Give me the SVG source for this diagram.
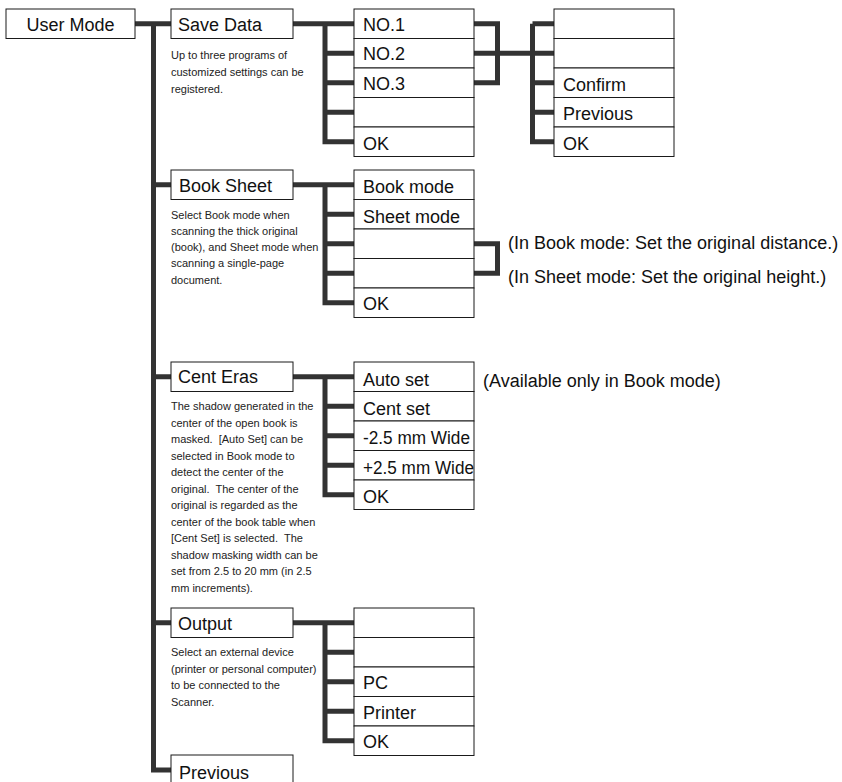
<svg xmlns="http://www.w3.org/2000/svg" width="842" height="782" viewBox="0 0 842 782">
<style>
.bg{fill:#ffffff}
.con{fill:none;stroke:#333333;stroke-width:5;stroke-linejoin:miter;stroke-linecap:butt}
.box{fill:#ffffff;stroke:#1a1a1a;stroke-width:1}
.lbl{font-family:"Liberation Sans",Arial,sans-serif;font-size:18px;fill:#111111}
.desc{font-family:"Liberation Sans",Arial,sans-serif;font-size:11px;fill:#222222;white-space:pre}
.note{font-family:"Liberation Sans",Arial,sans-serif;font-size:18px;fill:#111111}
</style>
<rect class="bg" x="0" y="0" width="842" height="782"/>
<g id="connectors">
<path class="con" d="M135 23.75 H171"/>
<path class="con" d="M153.5 23.75 V770 H171"/>
<path class="con" d="M153.5 184.75 H171 M153.5 376.75 H171 M153.5 622.75 H171"/>
<path class="con" d="M293 23.75 H354"/>
<path class="con" d="M325 23.75 V141.75 H354"/>
<path class="con" d="M325 53.25 H354 M325 82.75 H354 M325 112.25 H354"/>
<path class="con" d="M474 23.75 H497.5 V82.75 H474"/>
<path class="con" d="M474 53.25 H554"/>
<path class="con" d="M532.5 23.75 H554"/>
<path class="con" d="M532.5 23.75 V141.75 H554"/>
<path class="con" d="M532.5 82.75 H554 M532.5 112.25 H554"/>
<path class="con" d="M293 184.75 H354"/>
<path class="con" d="M325 184.75 V302.75 H354"/>
<path class="con" d="M325 214.25 H354 M325 243.75 H354 M325 273.25 H354"/>
<path class="con" d="M474 243.75 H497.5 V273.25 H474"/>
<path class="con" d="M293 376.75 H354"/>
<path class="con" d="M325 376.75 V494.75 H354"/>
<path class="con" d="M325 406.25 H354 M325 435.75 H354 M325 465.25 H354"/>
<path class="con" d="M293 622.75 H354"/>
<path class="con" d="M325 622.75 V740.75 H354"/>
<path class="con" d="M325 652.25 H354 M325 681.75 H354 M325 711.25 H354"/>
</g>
<g id="user-mode">
<rect class="box" x="6" y="9" width="129" height="29.5"/>
<text class="lbl" x="70.5" y="30.5" text-anchor="middle">User Mode</text>
</g>
<g id="save-data">
<rect class="box" x="171" y="9" width="122" height="29.5"/>
<text class="lbl" x="178" y="30.5">Save Data</text>
<text class="desc" x="171" y="58.5">Up to three programs of</text>
<text class="desc" x="171" y="75.5">customized settings can be</text>
<text class="desc" x="171" y="92.5">registered.</text>
</g>
<g id="save-options">
<rect class="box" x="354" y="9" width="120" height="29.5"/>
<rect class="box" x="354" y="38.5" width="120" height="29.5"/>
<rect class="box" x="354" y="68" width="120" height="29.5"/>
<rect class="box" x="354" y="97.5" width="120" height="29.5"/>
<rect class="box" x="354" y="127" width="120" height="29.5"/>
<text class="lbl" x="363" y="31">NO.1</text>
<text class="lbl" x="363" y="60">NO.2</text>
<text class="lbl" x="363" y="89.5">NO.3</text>
<text class="lbl" x="363" y="149.5">OK</text>
</g>
<g id="save-confirm">
<rect class="box" x="554" y="9" width="120" height="29.5"/>
<rect class="box" x="554" y="38.5" width="120" height="29.5"/>
<rect class="box" x="554" y="68" width="120" height="29.5"/>
<rect class="box" x="554" y="97.5" width="120" height="29.5"/>
<rect class="box" x="554" y="127" width="120" height="29.5"/>
<text class="lbl" x="563" y="90.5">Confirm</text>
<text class="lbl" x="563" y="120">Previous</text>
<text class="lbl" x="563" y="149.5">OK</text>
</g>
<g id="book-sheet">
<rect class="box" x="171" y="170" width="122" height="29.5"/>
<text class="lbl" x="179" y="191.5">Book Sheet</text>
<text class="desc" x="171" y="218.5">Select Book mode when</text>
<text class="desc" x="171" y="234.8">scanning the thick original</text>
<text class="desc" x="171" y="251">(book), and Sheet mode when</text>
<text class="desc" x="171" y="267.3">scanning a single-page</text>
<text class="desc" x="171" y="283.5">document.</text>
</g>
<g id="book-options">
<rect class="box" x="354" y="170" width="120" height="29.5"/>
<rect class="box" x="354" y="199.5" width="120" height="29.5"/>
<rect class="box" x="354" y="229" width="120" height="29.5"/>
<rect class="box" x="354" y="258.5" width="120" height="29.5"/>
<rect class="box" x="354" y="288" width="120" height="29.5"/>
<text class="lbl" x="363" y="193">Book mode</text>
<text class="lbl" x="363" y="222.5">Sheet mode</text>
<text class="lbl" x="363" y="310">OK</text>
</g>
<g id="book-notes">
<text class="note" x="508" y="248.5">(In Book mode: Set the original distance.)</text>
<text class="note" x="508" y="282.5">(In Sheet mode: Set the original height.)</text>
</g>
<g id="cent-eras">
<rect class="box" x="171" y="362" width="122" height="29.5"/>
<text class="lbl" x="178" y="383">Cent Eras</text>
<text class="desc" x="171" y="410">The shadow generated in the</text>
<text class="desc" x="171" y="426.5">center of the open book is</text>
<text class="desc" x="171" y="443">masked.  [Auto Set] can be</text>
<text class="desc" x="171" y="459.5">selected in Book mode to</text>
<text class="desc" x="171" y="476">detect the center of the</text>
<text class="desc" x="171" y="492.5">original.  The center of the</text>
<text class="desc" x="171" y="509">original is regarded as the</text>
<text class="desc" x="171" y="525.5">center of the book table when</text>
<text class="desc" x="171" y="542">[Cent Set] is selected.  The</text>
<text class="desc" x="171" y="558.5">shadow masking width can be</text>
<text class="desc" x="171" y="575">set from 2.5 to 20 mm (in 2.5</text>
<text class="desc" x="171" y="591.5">mm increments).</text>
</g>
<g id="cent-options">
<rect class="box" x="354" y="362" width="120" height="29.5"/>
<rect class="box" x="354" y="391.5" width="120" height="29.5"/>
<rect class="box" x="354" y="421" width="120" height="29.5"/>
<rect class="box" x="354" y="450.5" width="120" height="29.5"/>
<rect class="box" x="354" y="480" width="120" height="29.5"/>
<text class="lbl" x="363" y="385.5">Auto set</text>
<text class="lbl" x="363" y="414.5">Cent set</text>
<text class="lbl" x="363" y="444" textLength="107" lengthAdjust="spacingAndGlyphs">-2.5 mm Wide</text>
<text class="lbl" x="363" y="473.5" textLength="111" lengthAdjust="spacingAndGlyphs">+2.5 mm Wide</text>
<text class="lbl" x="363" y="502.5">OK</text>
</g>
<g id="cent-note">
<text class="note" x="483" y="387">(Available only in Book mode)</text>
</g>
<g id="output">
<rect class="box" x="171" y="608" width="122" height="29.5"/>
<text class="lbl" x="178" y="629.5">Output</text>
<text class="desc" x="171" y="656">Select an external device</text>
<text class="desc" x="171" y="672.5">(printer or personal computer)</text>
<text class="desc" x="171" y="689">to be connected to the</text>
<text class="desc" x="171" y="705.5">Scanner.</text>
</g>
<g id="output-options">
<rect class="box" x="354" y="608" width="120" height="29.5"/>
<rect class="box" x="354" y="637.5" width="120" height="29.5"/>
<rect class="box" x="354" y="667" width="120" height="29.5"/>
<rect class="box" x="354" y="696.5" width="120" height="29.5"/>
<rect class="box" x="354" y="726" width="120" height="29.5"/>
<text class="lbl" x="363" y="689">PC</text>
<text class="lbl" x="363" y="718.5">Printer</text>
<text class="lbl" x="363" y="748">OK</text>
</g>
<g id="previous">
<rect class="box" x="171" y="755" width="122" height="30"/>
<text class="lbl" x="179" y="778.5">Previous</text>
</g>
</svg>
